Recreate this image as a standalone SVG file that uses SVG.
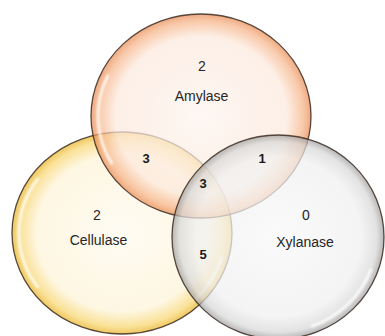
<svg xmlns="http://www.w3.org/2000/svg" width="385" height="336" viewBox="0 0 385 336">
  <defs>
    <radialGradient id="gA" cx="0.5" cy="0.5" r="0.5">
      <stop offset="0" stop-color="#fdf4ee"/>
      <stop offset="0.78" stop-color="#fce9dd"/>
      <stop offset="0.93" stop-color="#f6b488"/>
      <stop offset="1" stop-color="#e88a52"/>
    </radialGradient>
    <radialGradient id="gC" cx="0.5" cy="0.5" r="0.5">
      <stop offset="0" stop-color="#fefaef"/>
      <stop offset="0.78" stop-color="#fdf3d6"/>
      <stop offset="0.93" stop-color="#f8d66f"/>
      <stop offset="1" stop-color="#e8b224"/>
    </radialGradient>
    <radialGradient id="gX" cx="0.5" cy="0.5" r="0.5">
      <stop offset="0" stop-color="#f8f8f8"/>
      <stop offset="0.78" stop-color="#f0f0f0"/>
      <stop offset="0.93" stop-color="#d8d8d8"/>
      <stop offset="1" stop-color="#9c9c9c"/>
    </radialGradient>
    <filter id="soft" x="-20%" y="-20%" width="140%" height="140%">
      <feGaussianBlur stdDeviation="0.8"/>
    </filter>
  </defs>
  <style>
    .set { fill-opacity: 0.72; stroke: #3b2c22; stroke-width: 1.3; stroke-opacity: 0.85; }
    .hl { fill: none; stroke: #ffffff; stroke-width: 2.5; stroke-linecap: round; opacity: 0.9; filter: url(#soft); }
    .lbl { font-family: "Liberation Sans", Arial, sans-serif; font-size: 14px; fill: #262626; text-anchor: middle; }
    .num { font-family: "Liberation Sans", Arial, sans-serif; font-size: 13px; font-weight: bold; fill: #1a1a1a; text-anchor: middle; }
  </style>
  <rect width="385" height="336" fill="#ffffff"/>

  <g id="cellulase">
    <ellipse class="set" cx="122" cy="233" rx="110" ry="101" fill="url(#gC)"/>
    <path class="hl" d="M37.6,179 A103,94 0 0,0 37.6,287"/>
    <path class="hl" d="M221.5,257.3 A103,94 0 0,1 194.8,299.5"/>
    <text class="lbl" x="97" y="220">2</text>
    <text class="lbl" x="98.5" y="245">Cellulase</text>
  </g>

  <g id="amylase">
    <ellipse class="set" cx="201" cy="116" rx="110" ry="102" fill="url(#gA)"/>
    <path class="hl" d="M107.7,75.8 A103,95 0 0,0 111.8,163.5"/>
    <text class="lbl" x="202" y="71">2</text>
    <text class="lbl" x="201.5" y="101">Amylase</text>
  </g>

  <g id="xylanase">
    <ellipse class="set" cx="278" cy="237" rx="106" ry="102" fill="url(#gX)"/>
    <path class="hl" d="M371,269.5 A99,95 0 0,1 311.9,326.3"/>
    <text class="lbl" x="306" y="220">0</text>
    <text class="lbl" x="305" y="247">Xylanase</text>
  </g>

  <g id="overlaps">
    <text class="num" x="146" y="163">3</text>
    <text class="num" x="262" y="163">1</text>
    <text class="num" x="203" y="188">3</text>
    <text class="num" x="203" y="259">5</text>
  </g>

  <g id="connectors"/>
</svg>
